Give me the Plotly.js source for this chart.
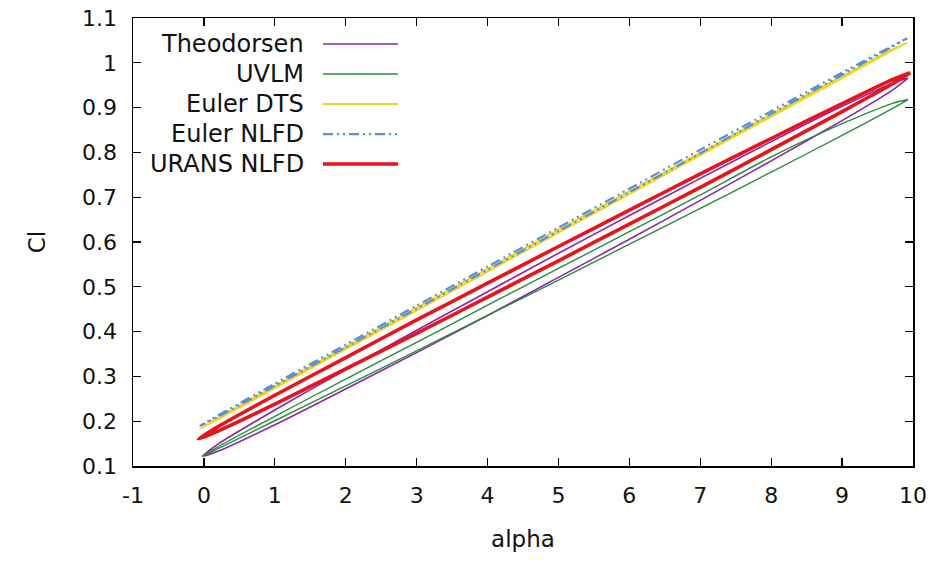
<!DOCTYPE html>
<html>
<head>
<meta charset="utf-8">
<script src="https://cdn.plot.ly/plotly-3.0.1.min.js"></script>
<style>html,body{margin:0;padding:0;background:#fff}#chart{width:936px;height:561px}</style>
</head>
<body>
<div id="chart"></div>
<script>
// ---- data (hysteresis loops: upper branch and lower branch) ----
const seriesNames = ["Theodorsen", "UVLM", "Euler DTS", "Euler NLFD", "URANS NLFD"];

const theodorsenAlpha = [-0.02, 0.2, 1, 2, 3, 4, 5, 6, 7, 8, 9, 9.7, 9.93];
const theodorsenUpper = [0.122, 0.149, 0.225, 0.315, 0.403, 0.489, 0.575, 0.659, 0.742, 0.824, 0.903, 0.954, 0.966];
const theodorsenLower = [0.122, 0.133, 0.192, 0.272, 0.353, 0.436, 0.521, 0.606, 0.693, 0.781, 0.871, 0.938, 0.966];

const uvlmAlpha = [-0.02, 0.2, 1, 2, 3, 4, 5, 6, 7, 8, 9, 9.7, 9.93];
const uvlmUpper = [0.122, 0.143, 0.211, 0.294, 0.376, 0.459, 0.541, 0.623, 0.705, 0.790, 0.864, 0.909, 0.918];
const uvlmLower = [0.122, 0.139, 0.201, 0.279, 0.357, 0.436, 0.515, 0.595, 0.675, 0.756, 0.838, 0.897, 0.918];

const eulerDtsAlpha = [-0.05, 0.2, 1, 2, 3, 4, 5, 6, 7, 8, 9, 9.7, 9.92];
const eulerDtsUpper = [0.184, 0.2070, 0.2785, 0.366, 0.453, 0.540, 0.627, 0.713, 0.799, 0.885, 0.970, 1.029, 1.045];
const eulerDtsLower = [0.184, 0.2045, 0.274, 0.361, 0.447, 0.534, 0.621, 0.707, 0.794, 0.880, 0.966, 1.027, 1.045];

const eulerNlfdAlpha = [-0.05, 0.2, 1, 2, 3, 4, 5, 6, 7, 8, 9, 9.7, 9.92];
const eulerNlfdUpper = [0.190, 0.213, 0.284, 0.371, 0.458, 0.545, 0.632, 0.719, 0.806, 0.892, 0.978, 1.037, 1.055];
const eulerNlfdLower = [0.190, 0.210, 0.279, 0.365, 0.451, 0.538, 0.624, 0.711, 0.798, 0.886, 0.973, 1.035, 1.055];

const uransAlpha = [-0.08, 0.2, 1, 2, 3, 4, 5, 6, 7, 8, 9, 9.7, 9.96];
const uransUpper = [0.160, 0.188, 0.258, 0.342, 0.426, 0.508, 0.590, 0.671, 0.752, 0.831, 0.909, 0.962, 0.978];
const uransLower = [0.160, 0.178, 0.238, 0.317, 0.396, 0.477, 0.558, 0.640, 0.722, 0.806, 0.891, 0.952, 0.978];

const xTickVals = [-1, 0, 1, 2, 3, 4, 5, 6, 7, 8, 9, 10];
const xTickText = ["-1", "0", "1", "2", "3", "4", "5", "6", "7", "8", "9", "10"];
const yTickVals = [0.1, 0.2, 0.3, 0.4, 0.5, 0.6, 0.7, 0.8, 0.9, 1.0, 1.1];
const yTickText = ["0.1", "0.2", "0.3", "0.4", "0.5", "0.6", "0.7", "0.8", "0.9", "1", "1.1"];

// ---- styles ----
const colors = ["#8e24aa", "#2a8c3a", "#f2d41c", "#5b8fd9", "#e8141c"];
const widths = [1.6, 1.4, 2, 2.2, 3.6];
const dashes = ["solid", "solid", "solid", "10px,4px,2px,4px,2px,4px", "solid"];

const alphas = [theodorsenAlpha, uvlmAlpha, eulerDtsAlpha, eulerNlfdAlpha, uransAlpha];
const uppers = [theodorsenUpper, uvlmUpper, eulerDtsUpper, eulerNlfdUpper, uransUpper];
const lowers = [theodorsenLower, uvlmLower, eulerDtsLower, eulerNlfdLower, uransLower];

const traces = seriesNames.map((name, i) => {
  const a = alphas[i];
  const x = a.concat(a.slice().reverse());
  const y = uppers[i].concat(lowers[i].slice().reverse());
  return {
    type: "scatter", mode: "lines", name: name, x: x, y: y,
    line: {color: colors[i], width: widths[i], dash: dashes[i], shape: "spline", smoothing: 0.6},
    showlegend: false, hoverinfo: "skip"
  };
});

// custom legend (text to the left of the sample line, as in the reference)
const legendRowsY = [0.942, 0.875, 0.808, 0.741, 0.674];
const annotations = seriesNames.map((name, i) => ({
  xref: "paper", yref: "paper", x: 0.2218, y: legendRowsY[i],
  xanchor: "right", yanchor: "middle", text: name, showarrow: false,
  font: {family: "DejaVu Sans", size: 24, color: "#111"}
}));
const shapes = seriesNames.map((name, i) => ({
  type: "line", xref: "paper", yref: "paper",
  x0: 0.2436, x1: 0.3397, y0: legendRowsY[i], y1: legendRowsY[i],
  line: {color: colors[i], width: widths[i], dash: dashes[i]}
}));

const tickFont = {family: "DejaVu Sans", size: 22, color: "#111"};
const layout = {
  width: 936, height: 561,
  margin: {l: 133, r: 23, t: 18, b: 95},
  paper_bgcolor: "#fff", plot_bgcolor: "#fff",
  showlegend: false,
  xaxis: {
    range: [-1, 10], tickmode: "array", tickvals: xTickVals, ticktext: xTickText,
    ticks: "inside", ticklen: 8, tickwidth: 1.2, tickcolor: "#000",
    showline: true, linecolor: "#000", linewidth: 1.5, mirror: "ticks",
    showgrid: false, zeroline: false, tickfont: tickFont, ticklabelstandoff: 9,
    title: {text: "alpha", font: {family: "DejaVu Sans", size: 23, color: "#111"}, standoff: 24}
  },
  yaxis: {
    range: [0.1, 1.1], tickmode: "array", tickvals: yTickVals, ticktext: yTickText,
    ticks: "inside", ticklen: 8, tickwidth: 1.2, tickcolor: "#000",
    showline: true, linecolor: "#000", linewidth: 1.5, mirror: "ticks",
    showgrid: false, zeroline: false, tickfont: tickFont, ticklabelstandoff: 10,
    title: {text: "Cl", font: {family: "DejaVu Sans", size: 23, color: "#111"}, standoff: 30}
  },
  annotations: annotations,
  shapes: shapes
};

Plotly.newPlot("chart", traces, layout, {displayModeBar: false, staticPlot: true});
</script>
</body>
</html>
